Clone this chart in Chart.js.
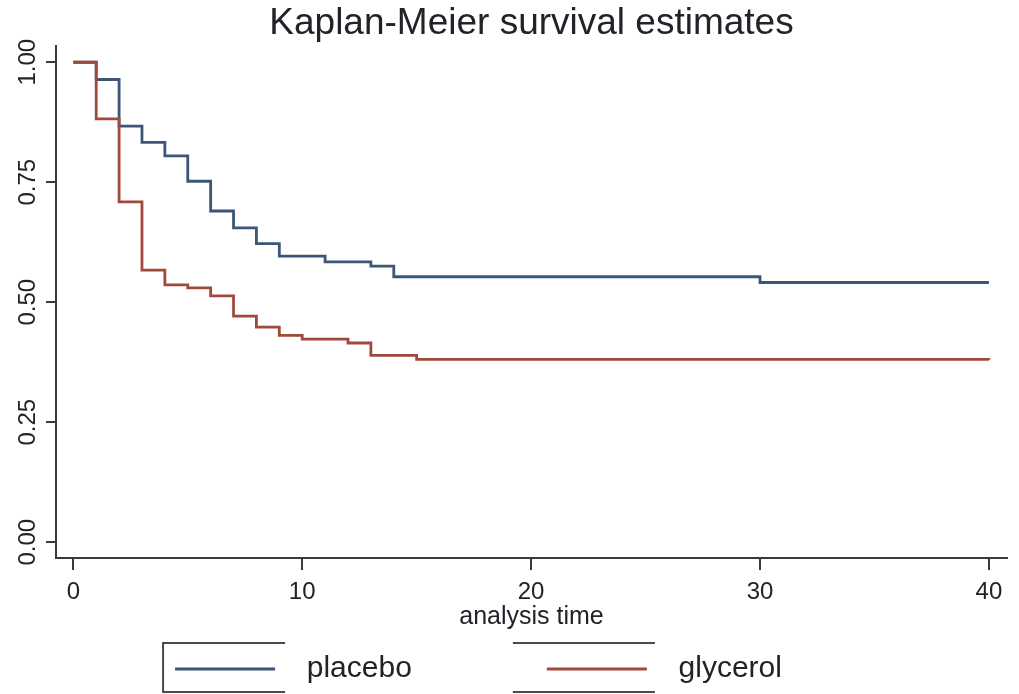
<!DOCTYPE html>
<html>
<head>
<meta charset="utf-8">
<title>Kaplan-Meier survival estimates</title>
<script src="https://cdn.jsdelivr.net/npm/chart.js@4.4.0/dist/chart.umd.min.js"></script>
<style>
  html, body { margin: 0; padding: 0; background: #ffffff; }
  #wrap { width: 1019px; height: 694px; }
</style>
</head>
<body>
<div id="wrap"><canvas id="kmChart" width="1019" height="694"></canvas></div>
<script>
// 데이터
var timePlacebo = [0, 1, 2, 3, 4, 5, 6, 7, 8, 9, 11, 13, 14, 30, 40];
var survPlacebo = [1.000, 0.964, 0.867, 0.833, 0.805, 0.752, 0.690, 0.655, 0.622, 0.596, 0.584, 0.575, 0.553, 0.541, 0.541];
var timeGlycerol = [0, 1, 2, 3, 4, 5, 6, 7, 8, 9, 10, 12, 13, 15, 40];
var survGlycerol = [1.000, 0.882, 0.709, 0.567, 0.536, 0.530, 0.513, 0.471, 0.448, 0.431, 0.423, 0.415, 0.389, 0.381, 0.380];
var groupNames = ['placebo', 'glycerol'];
var xTicks = [0, 10, 20, 30, 40];
var yTicks = [0, 0.25, 0.5, 0.75, 1];

var axisColor = '#3a3a3a';
var textColor = '#222228';
var fontFamily = '"Liberation Sans", Arial, sans-serif';

function toPoints(xs, ys) {
  return xs.map(function(x, i) { return { x: x, y: ys[i] }; });
}

// 범례 테두리 (원본의 잘린 상자)
var legendFrame = {
  id: 'legendFrame',
  afterDraw: function(chart) {
    var boxes = chart.legend && chart.legend.legendHitBoxes;
    if (!boxes || boxes.length < 2) return;
    var ctx = chart.ctx;
    var b0 = boxes[0], b1 = boxes[1];
    var top = b0.top - 11, bottom = b0.top + 38;
    var left = b0.left - 12;
    ctx.save();
    ctx.strokeStyle = '#4a4a4a';
    ctx.lineWidth = 2;
    ctx.beginPath();
    ctx.moveTo(left + 110 + 12, top); ctx.lineTo(left, top); ctx.lineTo(left, bottom); ctx.lineTo(b0.left + 110, bottom);
    ctx.moveTo(b1.left - 34, top); ctx.lineTo(b1.left + 108, top);
    ctx.moveTo(b1.left - 34, bottom); ctx.lineTo(b1.left + 108, bottom);
    ctx.stroke();
    ctx.restore();
  }
};

function createChart() {
  var ctx = document.getElementById('kmChart').getContext('2d');
  var lineChart = new Chart(ctx, {
    type: 'line',
    data: {
      datasets: [{
        label: groupNames[0],
        data: toPoints(timePlacebo, survPlacebo),
        borderColor: '#3b5678',
        backgroundColor: '#3b5678',
        borderWidth: 2.8,
        stepped: true,
        pointRadius: 0,
        fill: false,
        order: 1
      }, {
        label: groupNames[1],
        data: toPoints(timeGlycerol, survGlycerol),
        borderColor: '#a04a3c',
        backgroundColor: '#a04a3c',
        borderWidth: 2.8,
        stepped: true,
        pointRadius: 0,
        fill: false,
        order: 0
      }]
    },
    options: {
      responsive: false,
      animation: false,
      devicePixelRatio: 1,
      layout: { padding: { left: 0, right: 12, top: 0, bottom: 0 } },
      plugins: {
        title: {
          display: true,
          text: 'Kaplan-Meier survival estimates',
          fullSize: false,
          color: textColor,
          font: { family: fontFamily, size: 37, weight: 'normal', lineHeight: 1.2 },
          padding: { top: 2, bottom: 0 }
        },
        legend: {
          position: 'bottom',
          labels: {
            color: textColor,
            font: { family: fontFamily, size: 30 },
            usePointStyle: true,
            pointStyle: 'line',
            pointStyleWidth: 100,
            padding: 10,
            sort: function(a, b) { return a.datasetIndex - b.datasetIndex; },
            generateLabels: function(chart) {
              var items = Chart.defaults.plugins.legend.labels.generateLabels(chart);
              items.forEach(function(it) {
                it.pointStyle = 'line';
                it.lineWidth = 2.8;
                if (it.datasetIndex === 0) it.text = '  ' + it.text + '               ';
                else it.text = '  ' + it.text + '      ';
              });
              return items;
            }
          }
        },
        tooltip: { enabled: false }
      },
      scales: {
        x: {
          type: 'linear',
          min: -0.756,
          max: 40.79,
          afterBuildTicks: function(scale) {
            scale.ticks = xTicks.map(function(v) { return { value: v }; });
          },
          afterFit: function(scale) { scale.height = 86; },
          ticks: {
            color: textColor,
            font: { family: fontFamily, size: 24 },
            padding: 8,
            maxRotation: 0,
            callback: function(v) { return String(v); }
          },
          grid: { display: true, drawOnChartArea: false, drawTicks: true, tickLength: 12, color: axisColor, lineWidth: 2 },
          border: { display: true, color: axisColor, width: 2 },
          title: {
            display: true,
            text: 'analysis time',
            color: textColor,
            font: { family: fontFamily, size: 25, lineHeight: 1.2 },
            padding: { top: 0, bottom: 12 }
          }
        },
        y: {
          type: 'linear',
          min: -0.033,
          max: 1.033,
          afterBuildTicks: function(scale) {
            scale.ticks = yTicks.map(function(v) { return { value: v }; });
          },
          afterFit: function(scale) { scale.width = 56; },
          ticks: {
            color: textColor,
            font: { family: fontFamily, size: 24 },
            minRotation: 90,
            maxRotation: 90,
            crossAlign: 'center',
            padding: -6,
            callback: function(v) { return Number(v).toFixed(2); }
          },
          grid: { display: true, drawOnChartArea: false, drawTicks: true, tickLength: 10, color: axisColor, lineWidth: 2 },
          border: { display: true, color: axisColor, width: 2 }
        }
      }
    },
    plugins: [legendFrame]
  });
  return lineChart;
}

createChart();
</script>
</body>
</html>
